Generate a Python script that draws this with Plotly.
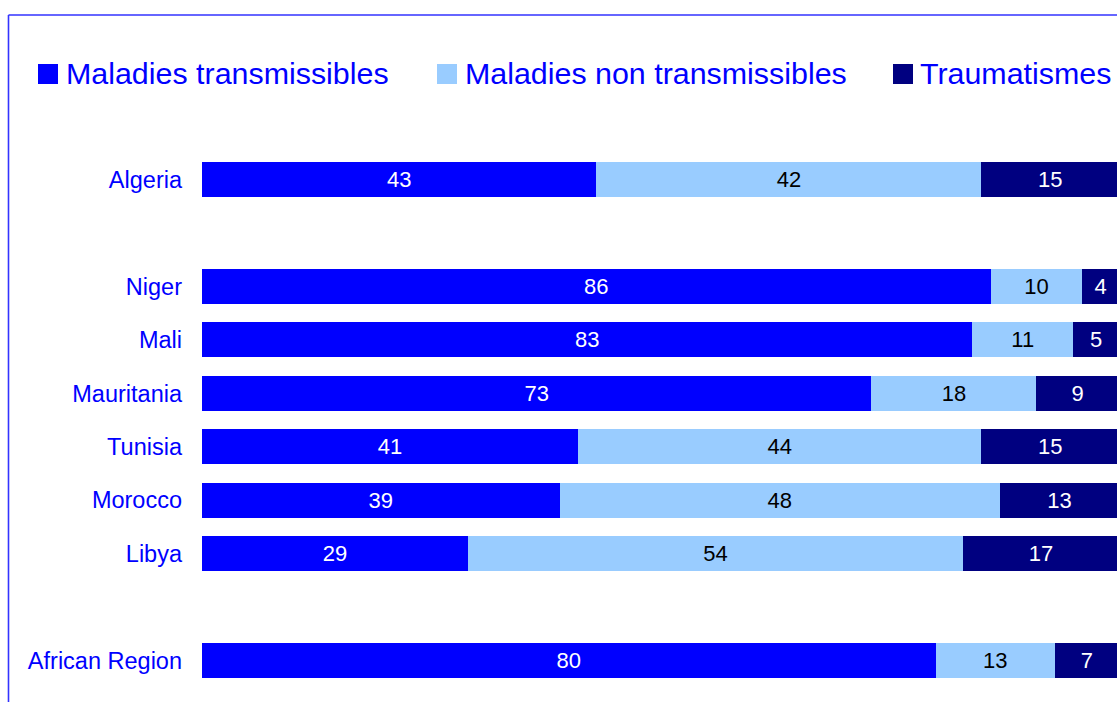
import plotly.graph_objects as go

# ---- data ----
categories = ["Algeria", " ", "Niger", "Mali", "Mauritania", "Tunisia", "Morocco", "Libya", "  ", "African Region"]
series_names = ["Maladies transmissibles", "Maladies non transmissibles", "Traumatismes"]
# bar lengths as drawn (%)
transmissibles = [43, None, 86, 84, 73, 41, 39, 29, None, 80]
non_transmissibles = [42, None, 10, 11, 18, 44, 48, 54, None, 13]
traumatismes = [15, None, 4, 5, 9, 15, 13, 17, None, 7]
# data labels as printed on the bars
transmissibles_labels = ["43", "", "86", "83", "73", "41", "39", "29", "", "80"]
non_transmissibles_labels = ["42", "", "10", "11", "18", "44", "48", "54", "", "13"]
traumatismes_labels = ["15", "", "4", "5", "9", "15", "13", "17", "", "7"]

colors = ["#0000ff", "#99ccff", "#000080"]
text_colors = ["white", "black", "white"]
values = [transmissibles, non_transmissibles, traumatismes]
labels = [transmissibles_labels, non_transmissibles_labels, traumatismes_labels]

W, H = 1117, 702
# plot area in page pixels: x 202..1117 (100% at ~1119, clipped), y 153..687
ML, MR, MT, MB = 202, 0, 153, 702 - 687
PW, PH = W - ML - MR, H - MT - MB
X_MAX = 100 * PW / 917.0


def px_x(px):
    return (px - ML) / PW


def px_y(py):
    return 1 - (py - MT) / PH


FONT = "Liberation Sans, Arial"

fig = go.Figure()
for name, vals, labs, col, tcol in zip(series_names, values, labels, colors, text_colors):
    fig.add_trace(go.Bar(
        y=categories, x=vals, name=name, orientation="h",
        marker=dict(color=col, line=dict(width=0)),
        text=labs,
        textposition="inside", insidetextanchor="middle",
        textangle=0, constraintext="none",
        textfont=dict(family=FONT, size=22, color=tcol),
        showlegend=False, hoverinfo="x+y+name",
    ))

shapes = []
annotations = []
# border (top and left edges visible)
shapes.append(dict(type="line", xref="paper", yref="paper",
                   x0=px_x(8.5), x1=px_x(1130), y0=px_y(15), y1=px_y(15),
                   line=dict(color="#3333ff", width=1.6)))
shapes.append(dict(type="line", xref="paper", yref="paper",
                   x0=px_x(8.5), x1=px_x(8.5), y0=px_y(15), y1=px_y(720),
                   line=dict(color="#3333ff", width=1.6)))

# manual legend
legend_sq_x = [38, 437, 893]
legend_txt_x = [64, 463, 918]
for name, col, sx, tx in zip(series_names, colors, legend_sq_x, legend_txt_x):
    shapes.append(dict(type="rect", xref="paper", yref="paper",
                       x0=px_x(sx), x1=px_x(sx + 20), y0=px_y(64), y1=px_y(84),
                       fillcolor=col, line=dict(width=0)))
    annotations.append(dict(xref="paper", yref="paper", x=px_x(tx), y=px_y(73),
                            xanchor="left", yanchor="middle", text=name,
                            showarrow=False,
                            font=dict(family=FONT, size=30.4, color="#0000ff")))

fig.update_layout(
    width=W, height=H,
    margin=dict(l=ML, r=MR, t=MT, b=MB),
    barmode="stack", bargap=0.345,
    plot_bgcolor="white", paper_bgcolor="white",
    shapes=shapes, annotations=annotations,
    xaxis=dict(range=[0, X_MAX], showgrid=False, zeroline=False,
               showticklabels=False, showline=False, fixedrange=True),
    yaxis=dict(type="category", categoryorder="array", categoryarray=categories,
               autorange="reversed", showgrid=False, zeroline=False, showline=False,
               ticks="", ticklabelstandoff=19, fixedrange=True,
               tickfont=dict(family=FONT, size=23.5, color="#0000ff")),
    showlegend=False,
)

fig.write_html(
    "out.html",
    config={"displayModeBar": False},
    post_script="document.body.style.margin='0';document.body.style.overflow='hidden';",
)
